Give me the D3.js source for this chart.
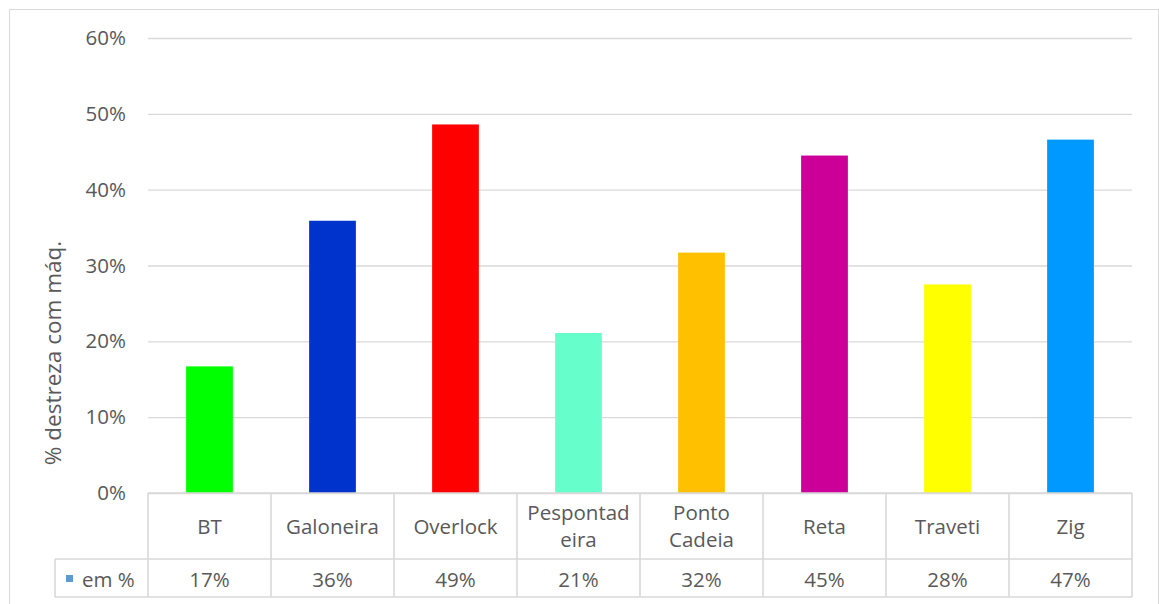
<!DOCTYPE html>
<html>
<head>
<meta charset="utf-8">
<script src="https://cdn.jsdelivr.net/npm/d3@7"></script>
<style>
  body { margin: 0; background: #fff; }
  text { font-family: "Open Sans", "Noto Sans", sans-serif; fill: #595959; }
</style>
</head>
<body>
<div id="chart"></div>
<script>
const categories = ['BT', 'Galoneira', 'Overlock', 'Pespontadeira', 'Ponto Cadeia', 'Reta', 'Traveti', 'Zig'];
const catLines = [['BT'], ['Galoneira'], ['Overlock'], ['Pespontad', 'eira'], ['Ponto', 'Cadeia'], ['Reta'], ['Traveti'], ['Zig']];
const values = [0.167, 0.359, 0.486, 0.211, 0.317, 0.445, 0.275, 0.466];
const colors = ['#00FF00', '#0033CC', '#FF0000', '#66FFCC', '#FFC000', '#CC0099', '#FFFF00', '#0099FF'];
const yTicks = [0, 0.1, 0.2, 0.3, 0.4, 0.5, 0.6];
const seriesName = 'em %';
const yTitle = '% destreza com máq.';

const W = 1159, H = 604;
const plotL = 148, plotR = 1132, plotT = 38, plotB = 493;
const row1 = 559, row2 = 597, legLeft = 55;
const grid = '#D9D9D9';
const fs = 20.5;

const svg = d3.select('#chart').append('svg')
  .attr('width', W).attr('height', H);

// chart border
svg.append('rect')
  .attr('x', 9.5).attr('y', 9.5)
  .attr('width', W - 10).attr('height', H)
  .attr('fill', 'none').attr('stroke', grid);

const x = d3.scaleBand().domain(categories).range([plotL, plotR]).paddingInner(0.62).paddingOuter(0.31);
const xCell = d3.scaleBand().domain(categories).range([plotL, plotR]);
const y = d3.scaleLinear().domain([0, 0.6]).range([plotB, plotT]);

// gridlines + tick labels via axis
const yAxis = d3.axisLeft(y).tickValues(yTicks).tickFormat(d3.format('.0%'))
  .tickSize(-(plotR - plotL)).tickPadding(22);
const ga = svg.append('g').attr('transform', `translate(${plotL},0)`).call(yAxis);
ga.select('.domain').remove();
ga.selectAll('.tick line').attr('stroke', grid).attr('stroke-width', 1.3);
ga.selectAll('.tick text').attr('font-size', fs).style('fill', '#595959')
  .attr('font-family', '"Open Sans", sans-serif');

// bars
svg.selectAll('rect.bar').data(values).enter().append('rect')
  .attr('class', 'bar')
  .attr('x', (d, i) => x(categories[i]))
  .attr('width', x.bandwidth())
  .attr('y', d => y(d))
  .attr('height', d => y(0) - y(d))
  .attr('fill', (d, i) => colors[i]);

// data table
const t = svg.append('g').attr('stroke', grid).attr('stroke-width', 1.6).attr('fill', 'none');
t.append('line').attr('x1', plotL).attr('x2', plotR).attr('y1', plotB).attr('y2', plotB);
t.append('line').attr('x1', legLeft).attr('x2', plotR).attr('y1', row1).attr('y2', row1);
t.append('line').attr('x1', legLeft).attr('x2', plotR).attr('y1', row2).attr('y2', row2);
t.append('line').attr('x1', legLeft).attr('x2', legLeft).attr('y1', row1).attr('y2', row2);
categories.forEach(c => {
  t.append('line').attr('x1', xCell(c)).attr('x2', xCell(c)).attr('y1', plotB).attr('y2', row2);
});
t.append('line').attr('x1', plotR).attr('x2', plotR).attr('y1', plotB).attr('y2', row2);

// category labels
const cat = svg.selectAll('text.cat').data(catLines).enter().append('text')
  .attr('class', 'cat')
  .attr('text-anchor', 'middle')
  .attr('font-size', fs)
  .attr('x', (d, i) => xCell(categories[i]) + xCell.bandwidth() / 2)
  .attr('y', d => d.length === 1 ? 534 : 520);
cat.selectAll('tspan').data(d => d).enter().append('tspan')
  .attr('x', function () { return d3.select(this.parentNode).attr('x'); })
  .attr('dy', (d, i) => i === 0 ? 0 : 27)
  .text(d => d);

// value row
svg.selectAll('text.val').data(values).enter().append('text')
  .attr('class', 'val')
  .attr('text-anchor', 'middle')
  .attr('font-size', fs)
  .attr('x', (d, i) => xCell(categories[i]) + xCell.bandwidth() / 2)
  .attr('y', 587)
  .text(d => d3.format('.0%')(d));

// legend key
svg.append('rect').attr('x', 66).attr('y', 575).attr('width', 7).attr('height', 7).attr('fill', '#5B9BD5');
svg.append('text').attr('x', 82).attr('y', 587).attr('font-size', fs).text(seriesName);

// y axis title
svg.append('text')
  .attr('transform', 'translate(61,353) rotate(-90)')
  .attr('text-anchor', 'middle')
  .attr('font-size', 22.5)
  .text(yTitle);
</script>
</body>
</html>
